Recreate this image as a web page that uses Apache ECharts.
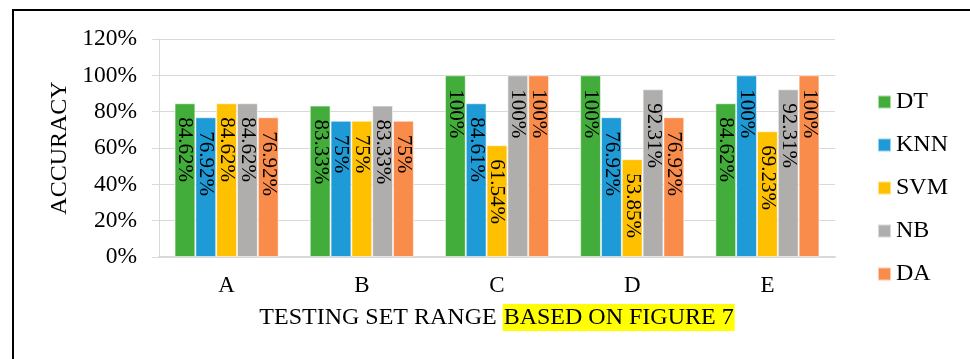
<!DOCTYPE html>
<html>
<head>
<meta charset="utf-8">
<script src="https://cdn.jsdelivr.net/npm/echarts@6/dist/echarts.min.js"></script>
<style>
  html, body { margin: 0; padding: 0; background: #fff; }
  #chart { width: 970px; height: 359px; }
</style>
</head>
<body>
<div id="chart"></div>
<script>
// Testing-set ranges and the classifiers compared on each
const categories = ['A', 'B', 'C', 'D', 'E'];
const seriesNames = ['DT', 'KNN', 'SVM', 'NB', 'DA'];

// Accuracy (%) per classifier, one value per testing-set range
const dtValues  = [84.62, 83.33, 100, 100, 84.62];
const knnValues = [76.92, 75, 84.61, 76.92, 100];
const svmValues = [84.62, 75, 61.54, 53.85, 69.23];
const nbValues  = [84.62, 83.33, 100, 92.31, 92.31];
const daValues  = [76.92, 75, 100, 76.92, 100];

// Y-axis range and step (percent)
const yMin = 0, yMax = 120, yStep = 20;

const colors = ['#43AD3B', '#1E9AD6', '#FFC000', '#B0ADAD', '#F98B4B'];
const valueSets = [dtValues, knnValues, svmValues, nbValues, daValues];
const serif = '"Liberation Serif", "Times New Roman", serif';

const chart = echarts.init(document.getElementById('chart'), null, { renderer: 'canvas' });

const series = seriesNames.map((name, i) => ({
  name: name,
  type: 'bar',
  data: valueSets[i],
  barGap: '0%',
  barCategoryGap: '23%',
  itemStyle: { color: colors[i], borderColor: 'rgba(255,255,255,0.55)', borderWidth: 1 },
  label: {
    show: true,
    position: 'insideTop',
    distance: 14,
    rotate: -90,
    align: 'left',
    verticalAlign: 'middle',
    fontFamily: serif,
    fontSize: 21,
    color: '#000',
    formatter: p => p.value + '%'
  }
}));

chart.setOption({
  animation: false,
  backgroundColor: '#fff',
  textStyle: { fontFamily: serif },
  graphic: [{
    type: 'rect',
    shape: { x: 13, y: 10, width: 1000, height: 400 },
    style: { fill: null, stroke: '#000', lineWidth: 2 },
    silent: true
  }],
  grid: { left: 159, right: 135, top: 39, bottom: 102, containLabel: false },
  legend: {
    orient: 'vertical',
    left: 872,
    top: 85,
    itemWidth: 13,
    itemHeight: 13,
    itemGap: 19,
    icon: 'rect',
    data: seriesNames,
    textStyle: { fontFamily: serif, fontSize: 24, color: '#000', lineHeight: 24 }
  },
  xAxis: {
    type: 'category',
    data: categories,
    axisLine: { show: true, lineStyle: { color: '#D9D9D9', width: 2 } },
    axisTick: { show: false },
    axisLabel: { fontFamily: serif, fontSize: 23, color: '#000', margin: 17 },
    name: '{a|TESTING SET RANGE }{b|BASED ON FIGURE 7}',
    nameLocation: 'middle',
    nameGap: 47,
    nameTextStyle: {
      rich: {
        a: { fontFamily: serif, fontSize: 24, color: '#000' },
        b: { fontFamily: serif, fontSize: 24, color: '#000', backgroundColor: '#FFFF00', padding: [2, 1, 1, 1] }
      }
    }
  },
  yAxis: {
    type: 'value',
    min: yMin,
    max: yMax,
    interval: yStep,
    axisLine: { show: true, lineStyle: { color: '#D9D9D9', width: 1 } },
    axisTick: { show: true, length: 7, lineStyle: { color: '#D9D9D9' } },
    splitLine: { show: true, lineStyle: { color: '#D9D9D9', width: 1 } },
    axisLabel: { fontFamily: serif, fontSize: 23.5, color: '#000', margin: 22, formatter: v => v + '%' },
    name: 'ACCURACY',
    nameLocation: 'middle',
    nameRotate: 90,
    nameGap: 85,
    nameTextStyle: { fontFamily: serif, fontSize: 24, color: '#000' }
  },
  series: series
});
</script>
</body>
</html>
